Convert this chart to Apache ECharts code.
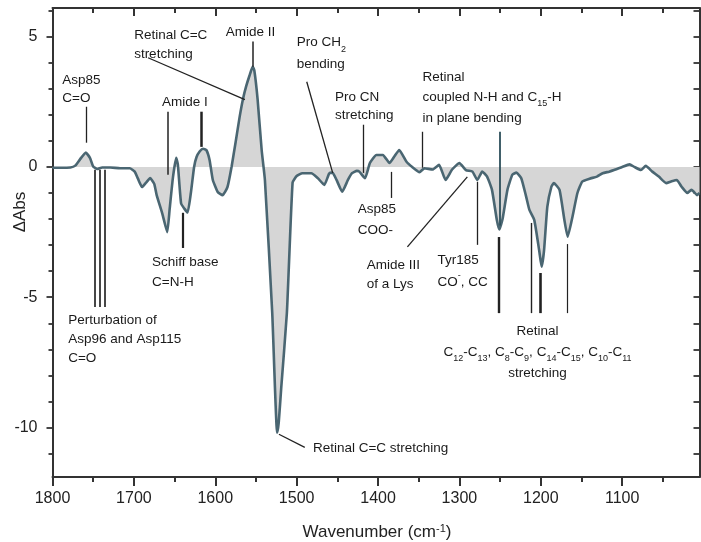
<!DOCTYPE html>
<html><head><meta charset="utf-8">
<script src="https://cdn.jsdelivr.net/npm/echarts@6/dist/echarts.min.js"></script>
<style>html,body{margin:0;padding:0;background:#fff}#c{width:701px;height:542px}</style>
</head><body><div id="c"></div>
<script>
// ---- data ----
const wavenumbers = [1800,1791,1778,1772,1766,1759,1754,1750,1745,1739,1729,1717,1705,1699,1695,1690,1685,1680,1675,1672,
  1665,1659,1656,1652,1648,1646,1642,1638,1634,1630,1626,1623,1619,1615,1611,1607,1603,1597,1591,1585,
  1580,1575,1570,1566,1562,1558,1554,1552,1548,1543,1539,1530,1524,1522,1519,1512,1505,1500,1493,1482,
  1474,1466,1460,1456,1451,1444,1437,1432,1426,1423,1416,1410,1402,1394,1386,1380,1374,1365,1358,1349,
  1343,1333,1325,1317,1309,1300,1292,1284,1278,1272,1266,1260,1254,1251,1247,1241,1235,1230,1224,1218,
  1214,1208,1202,1199,1196,1192,1187,1184,1177,1171,1167,1161,1155,1149,1140,1131,1124,1116,1110,1100,
  1091,1085,1077,1071,1063,1055,1046,1040,1033,1027,1020,1015,1012,1008,1005];
const dAbs = [-0.03,-0.03,-0.02,0.05,0.3,0.55,0.35,0.02,-0.08,-0.02,-0.02,-0.05,-0.05,-0.18,-0.45,-0.77,-0.6,-0.43,-0.65,-1.08,
  -1.8,-2.5,-1.6,-0.4,0.35,0.1,-1.4,-1.6,-1.75,-1.0,0.0,0.38,0.6,0.7,0.65,0.27,-0.5,-0.96,-1.08,-0.77,
  0.0,0.95,1.93,2.6,3.1,3.5,3.85,3.7,2.6,0.65,-0.5,-5.6,-10.2,-9.8,-8.5,-5.6,-0.6,-0.35,-0.24,-0.24,
  -0.43,-0.69,-0.25,-0.22,-0.5,-0.95,-0.5,-0.24,-0.15,-0.18,-0.43,0.15,0.46,0.46,0.15,0.4,0.65,0.2,0.0,-0.2,
  -0.05,-0.1,0.08,-0.5,-0.1,0.15,-0.12,-0.18,-0.5,-0.18,-0.37,-0.88,-2.04,-2.4,-2.0,-0.88,-0.3,-0.22,-0.43,-1.14,
  -1.65,-2.04,-3.2,-3.83,-3.2,-1.53,-0.76,-0.62,-0.88,-2.04,-2.68,-1.9,-1.0,-0.56,-0.45,-0.37,-0.24,-0.18,-0.12,0.0,
  0.1,0.0,-0.12,0.04,-0.18,-0.37,-0.62,-0.56,-0.5,-0.76,-1.0,-0.88,-0.95,-1.08,-1.0];
const xMajorTicks = [1800,1700,1600,1500,1400,1300,1200,1100];
const xMinorTicks = [1750,1650,1550,1450,1350,1250,1150,1050];
const yMajorTicks = [-10,-5,0,5];
const yMinorTicks = [-11,-9,-8,-7,-6,-4,-3,-2,-1,1,2,3,4,6];
const yAllTicks = [-11,-10,-9,-8,-7,-6,-5,-4,-3,-2,-1,0,1,2,3,4,5,6];

// annotation texts: [text, anchor wavenumber, anchor dAbs, align, lineHeight]
const annotations = [
  ['Asp85\nC=O', 1788, 3.31, 'left', 18],
  ['Retinal C=C\nstretching', 1699.7, 5.04, 'left', 19],
  ['Amide II', 1587, 5.15, 'left', 18],
  ['Amide I', 1665.4, 2.50, 'left', 18],
  ['Schiff base\nC=N-H', 1677.7, -3.65, 'left', 20],
  ['Perturbation of\nAsp96 and Asp115\nC=O', 1780.7, -5.88, 'left', 19],
  ['Retinal C=C stretching', 1480, -10.8, 'left', 18],
  ['Pro CH{sub|2}\nbending', 1499.9, 4.77, 'left', 22],
  ['Pro CN\nstretching', 1453, 2.69, 'left', 18],
  ['Retinal\ncoupled N-H and C{sub|15}-H\nin plane bending', 1345.3, 3.46, 'left', 20.5],
  ['Asp85\nCOO-', 1425, -1.61, 'left', 21],
  ['Amide III\nof a Lys', 1414, -3.76, 'left', 19],
  ['Tyr185\nCO{sup|-}, CC', 1326.9, -3.57, 'left', 22],
  ['Retinal\nC{sub|12}-C{sub|13}, C{sub|8}-C{sub|9}, C{sub|14}-C{sub|15}, C{sub|10}-C{sub|11}\nstretching', 1204, -6.30, 'center', 21]
];
// pointer lines: [w1, v1, w2, v2, width, colour]
const pointers = [
  [1758.7, 2.31, 1758.7, 0.93, 1.3, '#222'],
  [1682.6, 4.19, 1563.6, 2.58, 1.3, '#222'],
  [1553.8, 4.81, 1553.8, 3.85, 1.5, '#222'],
  [1658.1, 2.12, 1658.1, -0.3, 1.5, '#222'],
  [1617.0, 2.12, 1617.0, 0.77, 2.5, '#222'],
  [1639.7, -1.76, 1639.7, -3.11, 2.2, '#222'],
  [1747.6, -0.11, 1747.6, -5.38, 1.8, '#333'],
  [1741.5, -0.11, 1741.5, -5.38, 1.8, '#333'],
  [1735.4, -0.11, 1735.4, -5.38, 1.8, '#333'],
  [1521.8, -10.26, 1490.0, -10.76, 1.3, '#222'],
  [1487.6, 3.27, 1455.7, -0.23, 1.3, '#222'],
  [1417.8, 1.62, 1417.8, -0.23, 1.3, '#222'],
  [1345.3, 1.35, 1345.3, -0.03, 1.3, '#222'],
  [1250.9, 1.35, 1250.9, -2.25, 1.8, '#2c4e5a'],
  [1383.3, -0.19, 1383.3, -1.19, 1.3, '#222'],
  [1363.9, -3.07, 1290.3, -0.38, 1.3, '#222'],
  [1277.9, -0.57, 1277.9, -2.99, 1.3, '#222'],
  [1252.1, -2.69, 1252.1, -5.61, 2.4, '#222'],
  [1211.6, -2.15, 1211.6, -5.61, 1.4, '#222'],
  [1200.6, -4.07, 1200.6, -5.61, 2.6, '#222'],
  [1167.5, -2.96, 1167.5, -5.61, 1.2, '#222']
];

const FONT = "'Liberation Sans', Arial, sans-serif";
const AX = '#333';
const TXT = '#1a1a1a';
const X0 = 1005, X1 = 1800, Y0 = -11.9, Y1 = 6.1;
const plain = v => String(v);

function xAx(pos, ticks, len, inside, line, labels) {
  return {
    type: 'value', position: pos, min: X0, max: X1, inverse: true,
    axisLine: {show: line, onZero: false, lineStyle: {color: AX, width: 2}},
    axisTick: {show: true, inside: inside, length: len, customValues: ticks, lineStyle: {color: AX, width: 2}},
    axisLabel: labels ? {show: true, customValues: ticks, formatter: plain, margin: 14, fontSize: 16, color: '#222', fontFamily: FONT} : {show: false},
    splitLine: {show: false}
  };
}
function yAx(pos, ticks, len, inside, line, labels) {
  return {
    type: 'value', position: pos, min: Y0, max: Y1,
    axisLine: {show: line, onZero: false, lineStyle: {color: AX, width: 2}},
    axisTick: {show: true, inside: inside, length: len, customValues: ticks, lineStyle: {color: AX, width: 1.8}},
    axisLabel: labels ? {show: true, customValues: ticks, formatter: plain, margin: 15, fontSize: 16, color: '#222', fontFamily: FONT} : {show: false},
    splitLine: {show: false}
  };
}

const chart = echarts.init(document.getElementById('c'), null, {renderer: 'canvas'});
const seriesData = wavenumbers.map((w, i) => [w, dAbs[i]]);

chart.setOption({
  animation: false,
  backgroundColor: '#fff',
  grid: {left: 52.5, right: 1.5, top: 8, bottom: 65, containLabel: false},
  xAxis: [
    xAx('bottom', xMajorTicks, 9, false, true, true),
    xAx('bottom', xMinorTicks, 5, false, false, false),
    xAx('top', xMajorTicks, 8, true, true, false),
    xAx('top', xMinorTicks, 5, true, false, false)
  ],
  yAxis: [
    yAx('left', yMajorTicks, 6, false, true, true),
    yAx('left', yMinorTicks, 4, false, false, false),
    yAx('right', yAllTicks, 6, true, true, false)
  ],
  series: [{
    type: 'line', xAxisIndex: 0, yAxisIndex: 0,
    data: seriesData, showSymbol: false, smooth: 0.15,
    lineStyle: {color: '#4a6672', width: 2.6},
    areaStyle: {color: '#d6d6d6', origin: 0, opacity: 1},
    z: 3,
    markLine: {
      silent: true, symbol: ['none', 'none'], label: {show: false}, animation: false,
      data: pointers.map(p => [
        {coord: [p[0], p[1]], lineStyle: {color: p[5], width: p[4], type: 'solid'}},
        {coord: [p[2], p[3]]}
      ])
    }
  }]
});

const rich = {
  sub: {fontSize: 9, fontFamily: FONT, fill: TXT, verticalAlign: 'bottom'},
  sup: {fontSize: 9, fontFamily: FONT, fill: TXT, verticalAlign: 'top'}
};
const graphics = annotations.map(a => {
  const p = chart.convertToPixel({xAxisIndex: 0, yAxisIndex: 0}, [a[1], a[2]]);
  return {
    type: 'text', z: 100, x: p[0], y: p[1] - a[4] / 2,
    style: {text: a[0], rich: rich, fill: TXT, fontSize: 13.5, fontFamily: FONT,
      align: a[3], verticalAlign: 'top', lineHeight: a[4]}
  };
});
graphics.push({
  type: 'text', z: 100, x: 20, y: 212, rotation: Math.PI / 2,
  style: {text: 'ΔAbs', fill: '#222', fontSize: 17, fontFamily: FONT, align: 'center', verticalAlign: 'middle'}
});
graphics.push({
  type: 'text', z: 100, x: 377, y: 532,
  style: {text: 'Wavenumber (cm{s|-1})', fill: '#222', fontSize: 17, fontFamily: FONT, align: 'center', verticalAlign: 'middle',
    rich: {s: {fontSize: 11, fontFamily: FONT, fill: '#222', verticalAlign: 'top'}}}
});
chart.setOption({graphic: graphics});
</script>
</body></html>
